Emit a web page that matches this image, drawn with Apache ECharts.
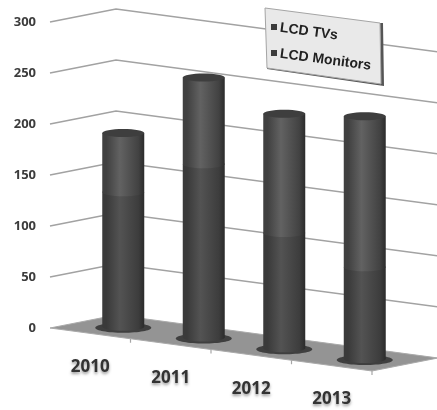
<!DOCTYPE html>
<html>
<head>
<meta charset="utf-8">
<style>html,body{margin:0;padding:0;background:#fff}#chart{width:437px;height:410px}</style>
<script src="https://cdn.jsdelivr.net/npm/echarts@6/dist/echarts.min.js"></script>
</head>
<body>
<div id="chart"></div>
<script>
// Sales by year, stacked cylinders in an oblique pseudo-3D view
const years = ['2010', '2011', '2012', '2013'];
const seriesNames = ['LCD TVs', 'LCD Monitors'];
const lcdTVs = [132, 170, 113, 90];
const lcdMonitors = [58, 85, 117, 148];
const valueTicks = [50, 100, 150, 200, 250, 300];

// Oblique projection: depth runs up and to the right, the front edge slopes down
const DEPTH_X = 66, DEPTH_Y = 13, SHEAR = 0.1335;
function project(c, left, d) {
  return [c[0] + DEPTH_X * d, c[1] + SHEAR * (c[0] - left) - DEPTH_Y * d];
}

const bodyFill = (edgeL, mid, edgeR) => ({
  type: 'linear', x: 0, y: 0, x2: 1, y2: 0,
  colorStops: [
    {offset: 0, color: edgeL}, {offset: 0.1, color: edgeL},
    {offset: 0.42, color: mid}, {offset: 0.86, color: edgeR}, {offset: 1, color: '#2b2b2b'}
  ]
});

function wallSeries() {
  return {
    type: 'custom', coordinateSystem: 'cartesian2d', z: 1, silent: true,
    data: valueTicks.map(v => [0, v]), encode: {x: 0, y: 1},
    renderItem(params, api) {
      const cs = params.coordSys, left = cs.x, right = cs.x + cs.width;
      const y = api.coord([0, api.value(1)])[1];
      const a = project([left, y], left, 0), b = project([left, y], left, 1), c = project([right, y], left, 1);
      return {type: 'polyline', shape: {points: [a, b, c]},
        style: {stroke: '#a2a2a2', lineWidth: 1.5, fill: null}};
    }
  };
}

function floorSeries() {
  return {
    type: 'custom', coordinateSystem: 'cartesian2d', z: 2, silent: true,
    data: [[0, 0]], encode: {x: 0, y: 1},
    renderItem(params, api) {
      const cs = params.coordSys, left = cs.x, right = cs.x + cs.width;
      const y = api.coord([0, 0])[1];
      const band = cs.width / years.length;
      const children = [{type: 'polygon', shape: {points: [
        project([left, y], left, 0), project([left, y], left, 1),
        project([right, y], left, 1), project([right, y], left, 0)
      ]}, style: {fill: '#949494', stroke: '#aaaaaa', lineWidth: 1}}];
      for (let i = 1; i <= years.length; i++) {
        const p = project([left + band * i, y], left, 0);
        children.push({type: 'line', shape: {x1: p[0], y1: p[1], x2: p[0], y2: p[1] + 4},
          style: {stroke: '#a6a6a6', lineWidth: 1.2}});
      }
      return {type: 'group', children};
    }
  };
}

function cylinderSeries(name, values, bases, isTop, shades) {
  return {
    name, type: 'custom', coordinateSystem: 'cartesian2d', z: isTop ? 4 : 3,
    data: values.map((v, i) => [i, bases[i], bases[i] + v]), encode: {x: 0, y: 2},
    renderItem(params, api) {
      const left = params.coordSys.x;
      const i = api.value(0);
      const lo = project(api.coord([i, api.value(1)]), left, 0.5);
      const hi = project(api.coord([i, api.value(2)]), left, 0.5);
      const rx = 21, ry = 4;
      const fill = bodyFill(shades[0], shades[1], shades[2]);
      const children = [];
      if (!isTop) {
        children.push({type: 'ellipse', shape: {cx: lo[0], cy: lo[1] + 1, rx: rx + 7, ry: ry + 1},
          style: {fill: '#3f3f3f'}});
      }
      children.push({type: 'ellipse', shape: {cx: lo[0], cy: lo[1], rx, ry}, style: {fill}});
      children.push({type: 'rect', shape: {x: lo[0] - rx, y: hi[1], width: rx * 2, height: lo[1] - hi[1]},
        style: {fill}});
      if (isTop) {
        children.push({type: 'ellipse', shape: {cx: hi[0], cy: hi[1], rx, ry}, style: {fill: '#3e3e3e'}});
      }
      return {type: 'group', children};
    }
  };
}

function yearLabelSeries() {
  return {
    type: 'custom', coordinateSystem: 'cartesian2d', z: 5, silent: true,
    data: years.map((y, i) => [i, 0]), encode: {x: 0, y: 1},
    renderItem(params, api) {
      const i = api.value(0);
      const p = project(api.coord([i, 0]), params.coordSys.x, 0);
      return {type: 'text', x: p[0], y: p[1] + 34, style: {
        text: years[i], fill: '#333', font: 'bold 17px "Open Sans"',
        align: 'center', verticalAlign: 'middle',
        textShadowColor: 'rgba(0,0,0,0.4)', textShadowBlur: 3, textShadowOffsetY: 2
      }};
    }
  };
}

const LEGEND_Z = 20;
const legendText = (text, x, y) => ({
  type: 'text', z: LEGEND_Z + 2, x, y, rotation: -0.13, originX: 0, originY: 0,
  style: {text, fill: '#222', font: 'bold 14px "Liberation Sans"', verticalAlign: 'middle'}
});
const legendMark = (x, y) => ({
  type: 'rect', z: LEGEND_Z + 1, shape: {x, y, width: 6, height: 6}, style: {fill: '#3c3c3c'}
});

const chart = echarts.init(document.getElementById('chart'), null, {renderer: 'canvas'});
chart.setOption({
  animation: false,
  backgroundColor: '#fff',
  grid: {left: 50, right: 65, top: 22, bottom: 82},
  xAxis: {type: 'category', data: years, show: false},
  yAxis: {
    type: 'value', min: 0, max: 300, interval: 50,
    axisLine: {show: false}, axisTick: {show: false}, splitLine: {show: false},
    axisLabel: {margin: 14, color: '#3c3c3c', fontFamily: 'Open Sans', fontWeight: 'bold', fontSize: 13}
  },
  series: [
    wallSeries(),
    floorSeries(),
    cylinderSeries(seriesNames[0], lcdTVs, [0, 0, 0, 0], false, ['#3a3a3a', '#535353', '#3d3d3d']),
    cylinderSeries(seriesNames[1], lcdMonitors, lcdTVs, true, ['#404040', '#626262', '#424242']),
    yearLabelSeries()
  ],
  graphic: [
    {type: 'polygon', z: LEGEND_Z, shape: {points: [[380, 23], [383, 23], [384, 86], [267, 69], [267, 67], [381, 83]]},
      style: {fill: '#555'}},
    {type: 'polygon', z: LEGEND_Z, shape: {points: [[265, 8], [380, 23], [381, 84], [267, 68]]},
      style: {fill: '#e9e9e9', stroke: '#a5a5a5', lineWidth: 1}},
    legendMark(271, 24), legendMark(271, 50),
    legendText(seriesNames[0], 280, 28),
    legendText(seriesNames[1], 280, 54)
  ]
});
</script>
</body>
</html>
